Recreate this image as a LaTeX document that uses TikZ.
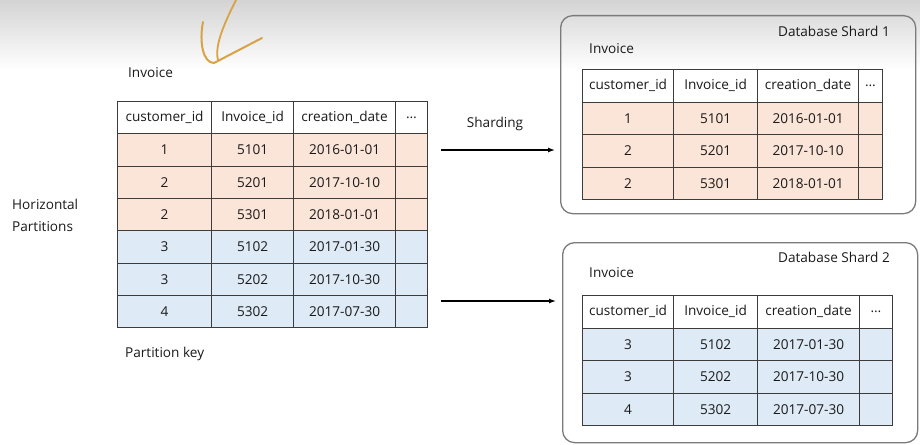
\documentclass[tikz,border=0pt]{standalone}
\usepackage{fontspec}
\setmainfont{Open Sans}
\usetikzlibrary{arrows.meta}
\definecolor{peach}{HTML}{FBE4D8}
\definecolor{lblue}{HTML}{DEEAF6}
\definecolor{gridc}{HTML}{3C3C3C}
\definecolor{boxc}{HTML}{7A7A7A}
\definecolor{txt}{HTML}{1A1A1A}
\definecolor{pen}{HTML}{D9A244}
\tikzset{
  cell/.style={draw=gridc, line width=1.1pt, inner sep=0pt, anchor=north west,
    font=\fontsize{13.6}{15}\selectfont, text=txt},
  lbl/.style={inner sep=0pt, font=\fontsize{13.6}{15}\selectfont, text=txt},
  shard/.style={draw=boxc, line width=1.3pt, rounded corners=12pt},
  arr/.style={-{Latex[length=7pt,width=5pt]}, line width=1.3pt, black},
}
\begin{document}
\begin{tikzpicture}[x=1pt,y=-1pt]
\useasboundingbox (0,0) rectangle (920,444);
% screen background shading
\shade[top color=black!17, bottom color=white] (0,0) rectangle (920,70);

% hand-drawn pen mark
\draw[pen, line width=2pt, line cap=round, line join=round]
  (203,22) .. controls (199,42) and (203,63) .. (214,63) -- (262,38);
\draw[pen, line width=1.8pt, line cap=round]
  (236,0) .. controls (226,20) and (214,45) .. (218,60);

% ---------- main table ----------
\node[lbl, anchor=west] (invm) at (128,73) {Invoice};
\foreach \t/\x/\w [count=\c] in {customer\_id/117/94, Invoice\_id/211/82, creation\_date/293/102, \dots/395/32}
  \node[cell, fill=white, minimum width=\w pt, minimum height=32.3pt] (m-0-\c) at (\x,101) {\t};
\foreach \a/\b/\d/\f [count=\r] in {1/5101/2016-01-01/peach, 2/5201/2017-10-10/peach, 2/5301/2018-01-01/peach,
    3/5102/2017-01-30/lblue, 3/5202/2017-10-30/lblue, 4/5302/2017-07-30/lblue} {
  \node[cell, fill=\f, minimum width=94pt, minimum height=32.3pt] (m-\r-1) at (117,101+32.3*\r) {\a};
  \node[cell, fill=\f, minimum width=82pt, minimum height=32.3pt] (m-\r-2) at (211,101+32.3*\r) {\b};
  \node[cell, fill=\f, minimum width=102pt, minimum height=32.3pt] (m-\r-3) at (293,101+32.3*\r) {\d};
  \node[cell, fill=\f, minimum width=32pt, minimum height=32.3pt] (m-\r-4) at (395,101+32.3*\r) {};
}
\node[lbl, anchor=north west, align=left, font=\fontsize{13.6}{22}\selectfont] (hp) at (12,199) {Horizontal\\Partitions};
\node[lbl, anchor=west] (pk) at (125,354) {Partition key};
\node[lbl] (shl) at (495,124) {Sharding};

% ---------- shard 1 ----------
\node[shard, minimum width=355pt, minimum height=198pt, anchor=north west] (s1) at (560,15) {};
\node[lbl, anchor=east] (s1t) at (890,31) {Database Shard 1};
\node[lbl, anchor=west] (s1i) at (589,49) {Invoice};
\foreach \t/\x/\w [count=\c] in {customer\_id/582/91, Invoice\_id/673/84, creation\_date/757/101, \dots/858/24}
  \node[cell, fill=white, minimum width=\w pt, minimum height=32.5pt] (a-0-\c) at (\x,69) {\t};
\foreach \a/\b/\d [count=\r] in {1/5101/2016-01-01, 2/5201/2017-10-10, 2/5301/2018-01-01} {
  \node[cell, fill=peach, minimum width=91pt, minimum height=32.5pt] (a-\r-1) at (582,69+32.5*\r) {\a};
  \node[cell, fill=peach, minimum width=84pt, minimum height=32.5pt] (a-\r-2) at (673,69+32.5*\r) {\b};
  \node[cell, fill=peach, minimum width=101pt, minimum height=32.5pt] (a-\r-3) at (757,69+32.5*\r) {\d};
  \node[cell, fill=peach, minimum width=24pt, minimum height=32.5pt] (a-\r-4) at (858,69+32.5*\r) {};
}

% ---------- shard 2 ----------
\node[shard, minimum width=355pt, minimum height=200pt, anchor=north west] (s2) at (562,242) {};
\node[lbl, anchor=east] (s2t) at (890,257) {Database Shard 2};
\node[lbl, anchor=west] (s2i) at (589,273) {Invoice};
\foreach \t/\x/\w [count=\c] in {customer\_id/582/91, Invoice\_id/673/84, creation\_date/757/102, \dots/859/33}
  \node[cell, fill=white, minimum width=\w pt, minimum height=32.5pt] (b-0-\c) at (\x,295) {\t};
\foreach \a/\b/\d [count=\r] in {3/5102/2017-01-30, 3/5202/2017-10-30, 4/5302/2017-07-30} {
  \node[cell, fill=lblue, minimum width=91pt, minimum height=32.5pt] (b-\r-1) at (582,295+32.5*\r) {\a};
  \node[cell, fill=lblue, minimum width=84pt, minimum height=32.5pt] (b-\r-2) at (673,295+32.5*\r) {\b};
  \node[cell, fill=lblue, minimum width=102pt, minimum height=32.5pt] (b-\r-3) at (757,295+32.5*\r) {\d};
  \node[cell, fill=lblue, minimum width=33pt, minimum height=32.5pt] (b-\r-4) at (859,295+32.5*\r) {};
}

% ---------- arrows ----------
\coordinate (a1s) at (441,150);
\coordinate (a2s) at (441,301);
\draw[arr] (a1s) -- ([xshift=-5pt]a1s -| s1.west);
\draw[arr] (a2s) -- ([xshift=-6pt]a2s -| s2.west);
\end{tikzpicture}
\end{document}
